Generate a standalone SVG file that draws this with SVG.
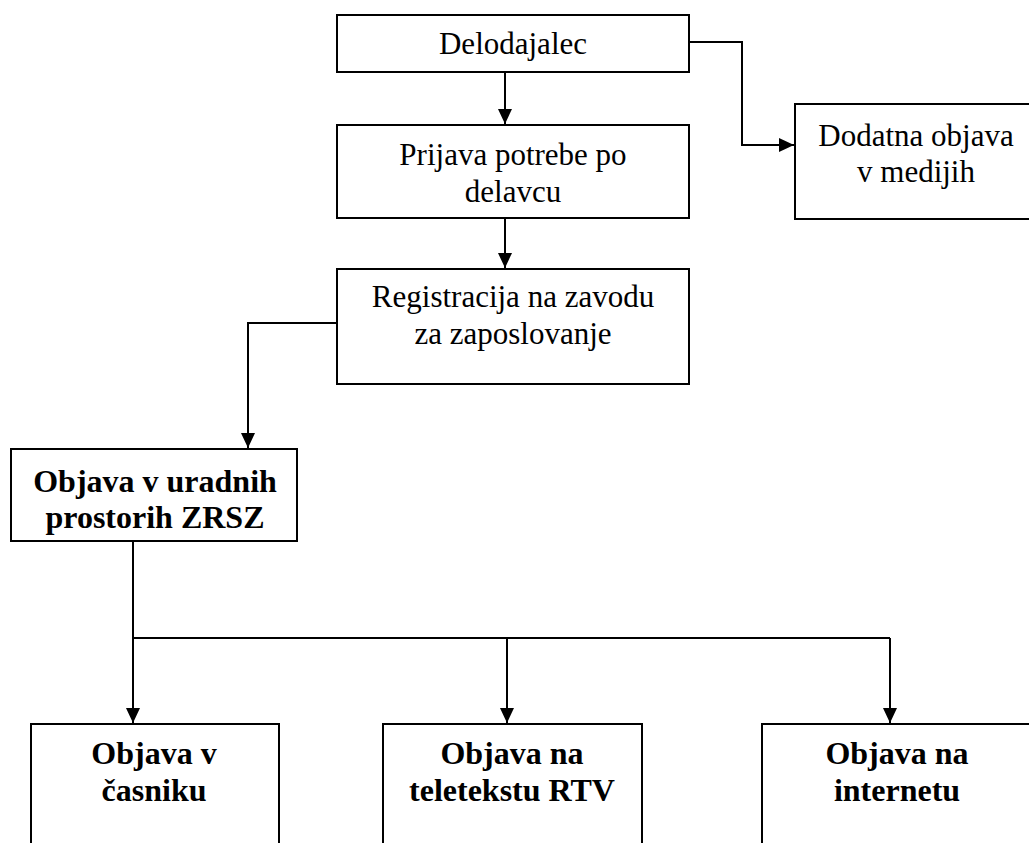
<svg xmlns="http://www.w3.org/2000/svg" width="1029" height="843" viewBox="0 0 1029 843">
<style>
.box{fill:#fff;stroke:#000;stroke-width:2}
.t{font-family:"Liberation Serif","Times New Roman",serif;font-size:31px;text-anchor:middle;fill:#000}
.b{font-weight:bold;font-size:32px}
.c{fill:none;stroke:#000;stroke-width:2}
</style>
<defs>
<marker id="ah" markerWidth="15" markerHeight="14" refX="15" refY="7" orient="auto" markerUnits="userSpaceOnUse">
<path d="M0,0 L15,7 L0,14 Z" fill="#000"/>
</marker>
</defs>
<rect width="1029" height="843" fill="#fff"/>
<g id="connectors">
<path class="c" d="M505,72 V124" marker-end="url(#ah)"/>
<path class="c" d="M689,42 H742 V145 H794" marker-end="url(#ah)"/>
<path class="c" d="M505,218 V268" marker-end="url(#ah)"/>
<path class="c" d="M337,323 H248 V448" marker-end="url(#ah)"/>
<path class="c" d="M133,541 V723" marker-end="url(#ah)"/>
<path class="c" d="M133,638 H890"/>
<path class="c" d="M507,638 V723" marker-end="url(#ah)"/>
<path class="c" d="M890,638 V723" marker-end="url(#ah)"/>
</g>
<g id="delodajalec">
<rect class="box" x="337" y="15" width="352" height="57"/>
<text class="t" x="513" y="54">Delodajalec</text>
</g>
<g id="dodatna">
<rect class="box" x="795" y="104" width="250" height="115"/>
<text class="t" x="916" y="146">Dodatna objava</text>
<text class="t" x="916" y="182">v medijih</text>
</g>
<g id="prijava">
<rect class="box" x="337" y="125" width="352" height="93"/>
<text class="t" x="513" y="165">Prijava potrebe po</text>
<text class="t" x="513" y="202">delavcu</text>
</g>
<g id="registracija">
<rect class="box" x="337" y="269" width="352" height="115"/>
<text class="t" x="513" y="307">Registracija na zavodu</text>
<text class="t" x="513" y="344">za zaposlovanje</text>
</g>
<g id="uradni">
<rect class="box" x="11" y="449" width="286" height="92"/>
<text class="t b" x="155" y="492">Objava v uradnih</text>
<text class="t b" x="155" y="528">prostorih ZRSZ</text>
</g>
<g id="casnik">
<rect class="box" x="31" y="724" width="248" height="140"/>
<text class="t b" x="154" y="764">Objava v</text>
<text class="t b" x="154" y="801">časniku</text>
</g>
<g id="teletekst">
<rect class="box" x="383" y="724" width="259" height="140"/>
<text class="t b" x="512" y="764">Objava na</text>
<text class="t b" x="512" y="801">teletekstu RTV</text>
</g>
<g id="internet">
<rect class="box" x="762" y="724" width="290" height="140"/>
<text class="t b" x="897" y="764">Objava na</text>
<text class="t b" x="897" y="801">internetu</text>
</g>
</svg>
